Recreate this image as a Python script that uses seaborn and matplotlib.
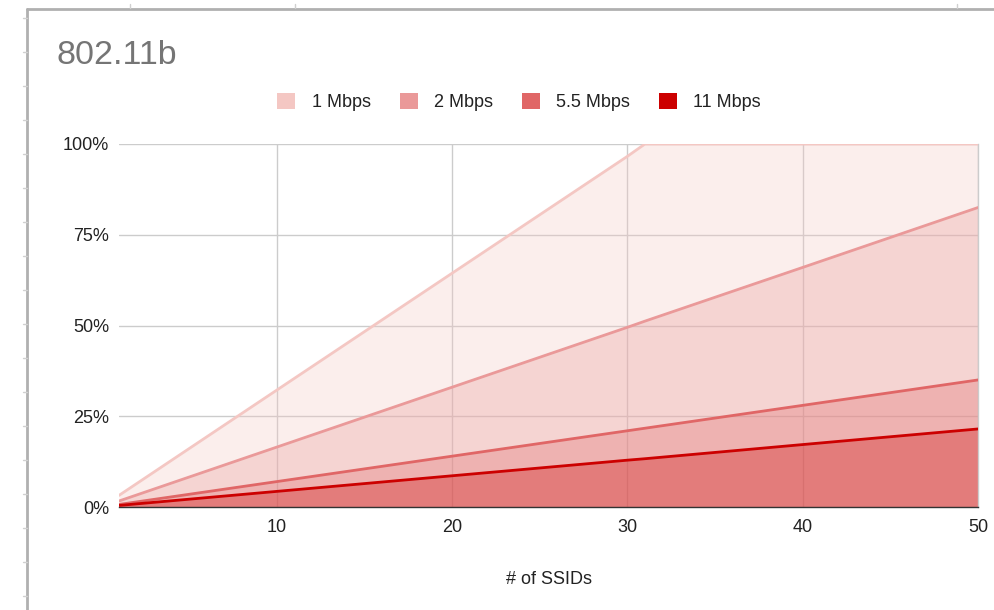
import matplotlib
matplotlib.use("Agg")
import matplotlib.pyplot as plt
from matplotlib.patches import Patch
from matplotlib.lines import Line2D
import seaborn as sns
import pandas as pd

# ---- data ----
ssids = [1, 10, 20, 30, 31, 40, 50]
mbps_1 = [3.2, 32.2, 64.4, 96.6, 100, 100, 100]
mbps_2 = [1.65, 16.5, 33.0, 49.5, 51.2, 66.0, 82.5]
mbps_5_5 = [0.7, 7.0, 14.0, 21.0, 21.7, 28.0, 35.0]
mbps_11 = [0.43, 4.3, 8.6, 12.9, 13.3, 17.2, 21.5]
series_names = ["1 Mbps", "2 Mbps", "5.5 Mbps", "11 Mbps"]
series_values = [mbps_1, mbps_2, mbps_5_5, mbps_11]
colors = ["#f4c7c3", "#ea9999", "#e06666", "#cc0000"]
yticks = [0, 25, 50, 75, 100]
ytick_labels = ["0%", "25%", "50%", "75%", "100%"]
xticks = [10, 20, 30, 40, 50]

rows = []
for name, vals in zip(series_names, series_values):
    for x, v in zip(ssids, vals):
        rows.append({"SSIDs": x, "pct": v, "series": name})
df = pd.DataFrame(rows)

sns.set_theme(style="white")
plt.rcParams["font.family"] = ["Liberation Sans", "DejaVu Sans"]

W, H = 994, 610
fig = plt.figure(figsize=(W / 100, H / 100), dpi=100)
fig.patch.set_facecolor("white")

x0, x1 = 119, 978
y0, y1 = 144, 507
ax = fig.add_axes([x0 / W, 1 - y1 / H, (x1 - x0) / W, (y1 - y0) / H])
ax.set_facecolor("white")

FS = 13

# fills
for name, col in zip(series_names, colors):
    sub = df[df["series"] == name]
    ax.fill_between(sub["SSIDs"], 0, sub["pct"], color=col, alpha=0.3, lw=0, zorder=2)

sns.lineplot(data=df, x="SSIDs", y="pct", hue="series", palette=colors,
             hue_order=series_names, ax=ax, lw=2, legend=False, zorder=3)

ax.set_xlim(1, 50)
ax.set_ylim(0, 100)
ax.set_xticks(xticks)
ax.set_yticks(yticks)
ax.set_yticklabels(ytick_labels)
ax.grid(True, color="#cccccc", lw=1, zorder=1)
ax.set_axisbelow(True)
for s in ["top", "left"]:
    ax.spines[s].set_visible(False)
ax.spines["right"].set_visible(True)
ax.spines["right"].set_color("#cccccc")
ax.spines["right"].set_linewidth(1)
ax.spines["bottom"].set_color("#333333")
ax.spines["bottom"].set_linewidth(1)
ax.tick_params(axis="both", length=0, labelsize=FS, colors="#222222", pad=7)
ax.tick_params(axis="x", pad=9)
ax.set_xlabel("# of SSIDs", fontsize=FS, color="#222222", labelpad=25)
ax.set_ylabel("")

# title
fig.text(57 / W, 1 - 56 / H, "802.11b", fontsize=24.5, color="#757575",
         ha="left", va="center")

# legend
handles = [Patch(facecolor=c, edgecolor="none") for c in colors]
fig.legend(handles, series_names, loc="center", ncol=4,
           bbox_to_anchor=(519 / W, 1 - 102 / H), frameon=False,
           fontsize=FS, handlelength=1.0, handleheight=1.0,
           handletextpad=0.9, columnspacing=1.6, labelcolor="#222222")

# spreadsheet frame
fig.add_artist(Line2D([27 / W, 27 / W], [0, 1 - 9 / H], color="#b0b0b0", lw=2,
                      transform=fig.transFigure))
fig.add_artist(Line2D([27 / W, 1], [1 - 9 / H, 1 - 9 / H], color="#b0b0b0", lw=2,
                      transform=fig.transFigure))
for yy in range(18, 610, 34):
    fig.add_artist(Line2D([23 / W, 27 / W], [1 - yy / H, 1 - yy / H], color="#d0d0d0",
                          lw=1, transform=fig.transFigure))
for xx in [130, 295, 957]:
    fig.add_artist(Line2D([xx / W, xx / W], [1 - 4 / H, 1 - 8 / H], color="#d0d0d0",
                          lw=1, transform=fig.transFigure))

fig.savefig("out.png", dpi=100, facecolor="white")
